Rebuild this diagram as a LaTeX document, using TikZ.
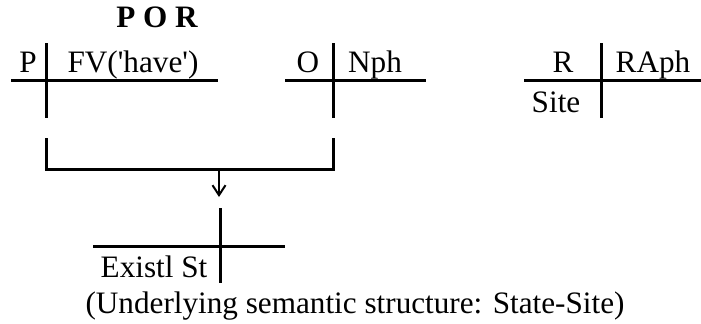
\documentclass[tikz,border=0pt]{standalone}
\usepackage{fontspec}
\setmainfont{Liberation Serif}
\usetikzlibrary{arrows.meta}
\tikzset{
  lbl/.style={inner sep=0pt, anchor=base, font=\fontsize{15.6}{19}\selectfont},
  ttl/.style={inner sep=0pt, anchor=base, font=\fontsize{15.6}{19}\selectfont\bfseries},
  rule/.style={line width=1.5pt},
  arr/.style={line width=1pt, -{Straight Barb[length=5pt,width=6.5pt]}}
}
\begin{document}
\begin{tikzpicture}[x=0.5pt,y=-0.5pt]
\useasboundingbox (0,0) rectangle (701,323);
% title
\node[ttl] (por) at (157,27) {P O R};
% P cross
\coordinate (pT) at (46,43); \coordinate (pB) at (46,118);
\coordinate (pL) at (11,80); \coordinate (pR) at (218,80);
\draw[rule] (pT) -- (pB); \draw[rule] (pL) -- (pR);
\node[lbl] (p) at (28,72) {P};
\node[lbl] (fv) at (133,72) {FV(\textquotesingle have\textquotesingle)};
% O cross
\coordinate (oT) at (333,43); \coordinate (oB) at (333,118);
\coordinate (oL) at (285,80); \coordinate (oR) at (426,80);
\draw[rule] (oT) -- (oB); \draw[rule] (oL) -- (oR);
\node[lbl] (o) at (308,72) {O};
\node[lbl] (nph) at (375,72) {Nph};
% R cross
\coordinate (rT) at (601,43); \coordinate (rB) at (601,118);
\coordinate (rL) at (524,80); \coordinate (rR) at (701,80);
\draw[rule] (rT) -- (rB); \draw[rule] (rL) -- (rR);
\node[lbl] (r) at (563,72) {R};
\node[lbl] (raph) at (653,72) {RAph};
\node[lbl] (site) at (556,112) {Site};
% bracket
\coordinate (b1) at (46,138); \coordinate (b2) at (46,169);
\coordinate (b3) at (333,169); \coordinate (b4) at (333,138);
\draw[rule] (b1) -- (b2) -- (b3) -- (b4);
% arrow
\coordinate (aS) at (219,170); \coordinate (aE) at (219,197);
\draw[arr] (aS) -- (aE);
% Existl St cross
\coordinate (eT) at (220,208); \coordinate (eB) at (220,283);
\coordinate (eL) at (93,246); \coordinate (eR) at (285,246);
\draw[rule] (eT) -- (eB); \draw[rule] (eL) -- (eR);
\node[lbl] (ex) at (154,277) {Existl St};
% caption
\node[lbl] (cap) at (355,313) {(Underlying semantic structure: State-Site)};
\end{tikzpicture}
\end{document}
